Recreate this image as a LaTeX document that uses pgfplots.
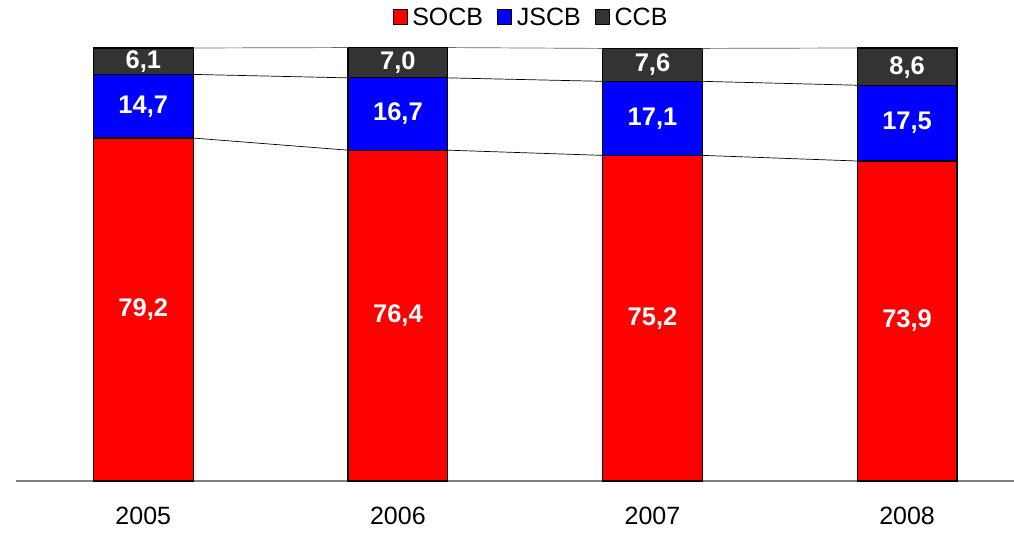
\documentclass[border=0pt]{standalone}
\usepackage{pgfplots}
\pgfplotsset{compat=1.18}
\usepackage{fontspec}
\setmainfont{Liberation Sans}
\definecolor{socb}{RGB}{255,0,0}
\definecolor{jscb}{RGB}{0,0,255}
\definecolor{ccb}{RGB}{51,51,51}
\begin{document}
\begin{tikzpicture}[x=1pt,y=1pt]
\useasboundingbox (-16,-53) rectangle (998,481);
\pgfplotsset{common/.style={scale only axis, width=998pt, height=433pt,
  xmin=-0.5, xmax=3.42, ymin=0, ymax=100, at={(0,0)}, anchor=south west, clip=false}}
\begin{axis}[common, ybar stacked, bar width=0.3926,
  axis x line=bottom, axis y line=none,
  x axis line style={draw=gray, line width=1.5pt, -},
  xtick={0,1,2,3}, xticklabels={2005,2006,2007,2008},
  major tick length=0pt,
  xticklabel style={font=\fontsize{25}{29}\selectfont, yshift=-23pt},
  legend columns=-1,
  legend style={at={(0.516,1.071)}, anchor=center, draw=none, fill=none,
    font=\fontsize{25}{29}\selectfont,
    /tikz/every odd column/.append style={column sep=3pt},
    /tikz/every even column/.append style={column sep=12pt}},
  legend image code/.code={\draw[#1, draw=black, line width=0.8pt] (0pt,-7.5pt) rectangle (14pt,7.5pt);},
  every axis plot/.append style={draw=black, line width=1.2pt}]
\addplot[fill=socb] coordinates {(0,79.2) (1,76.4) (2,75.2) (3,73.9)};
\addplot[fill=jscb] coordinates {(0,14.7) (1,16.7) (2,17.1) (3,17.5)};
\addplot[fill=ccb] coordinates {(0,6.1) (1,7.0) (2,7.6) (3,8.6)};
\legend{SOCB,JSCB,CCB}
\end{axis}
\begin{axis}[common, axis lines=none, unbounded coords=jump]
\addplot[black, line width=0.7pt, mark=none] coordinates {
 (0.196,79.2) (0.804,76.4) (1,nan) (1.196,76.4) (1.804,75.2) (2,nan) (2.196,75.2) (2.804,73.9)};
\addplot[black, line width=0.7pt, mark=none] coordinates {
 (0.196,93.9) (0.804,93.1) (1,nan) (1.196,93.1) (1.804,92.3) (2,nan) (2.196,92.3) (2.804,91.4)};
\addplot[black!60, line width=0.7pt, mark=none] coordinates {
 (0.196,100) (0.804,100.1) (1,nan) (1.196,100.1) (1.804,99.9) (2,nan) (2.196,99.9) (2.804,100)};
\addplot[draw=none, mark=none, nodes near coords, point meta=explicit symbolic,
  every node near coord/.append style={anchor=center, text=white, font=\bfseries\fontsize{25.5}{29}\selectfont}]
 coordinates {
 (0,39.6) [{79,2}] (1,38.2) [{76,4}] (2,37.6) [{75,2}] (3,36.95) [{73,9}]
 (0,86.55) [{14,7}] (1,84.75) [{16,7}] (2,83.75) [{17,1}] (3,82.65) [{17,5}]
 (0,96.95) [{6,1}] (1,96.6) [{7,0}] (2,96.1) [{7,6}] (3,95.55) [{8,6}]
 };
\end{axis}
\end{tikzpicture}
\end{document}
